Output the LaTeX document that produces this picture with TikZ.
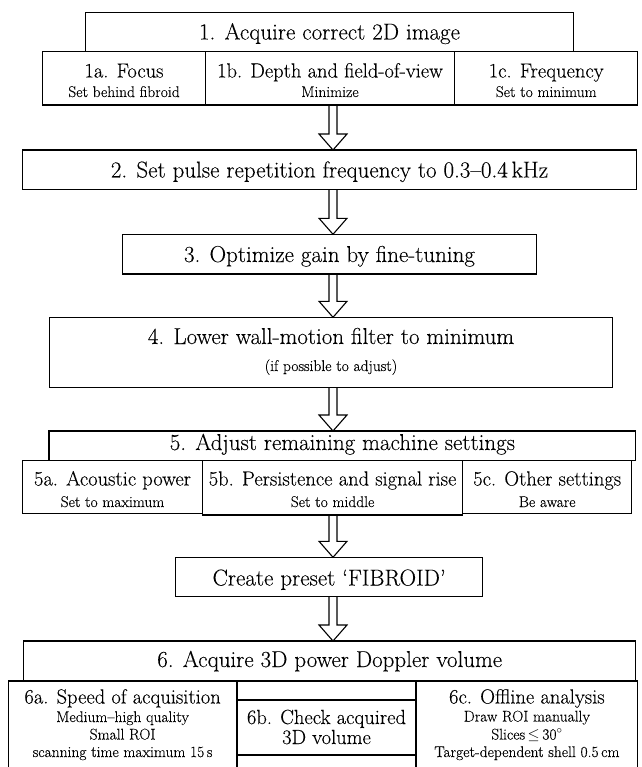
\documentclass[tikz,border=0pt]{standalone}
\usepackage{fix-cm}
\usepackage{fontspec}
\setmainfont{Latin Modern Roman}[FakeBold=0.15]
\usetikzlibrary{fit,calc}
\newcommand\fmain{\fontsize{23}{27}\selectfont}
\newcommand\fsub{\fontsize{20.5}{24}\selectfont}
\newcommand\fsmall{\fontsize{15.5}{18}\selectfont}
\newcommand\flowarrow[2]{%
  \draw[blk] ($(#1.south -| ax)+(-4,0)$) -- ($(#2.north -| ax)+(-4,-16)$)
    -- ($(#2.north -| ax)+(-14,-16)$) -- (#2.north -| ax)
    -- ($(#2.north -| ax)+(14,-16)$) -- ($(#2.north -| ax)+(4,-16)$)
    -- ($(#1.south -| ax)+(4,0)$);}
\newcommand\bx[5]{\node[box, fit={(#2,#3) (#4,#5)}] (#1) {};}
\tikzset{
  box/.style={draw, line width=1.1pt, inner sep=0pt, outer sep=0pt},
  ttl/.style={anchor=base, inner sep=0pt, font=\fmain},
  sub/.style={anchor=base, inner sep=0pt, font=\fsub},
  sml/.style={anchor=base, inner sep=0pt, font=\fsmall},
  blk/.style={draw, line width=1.1pt, line join=miter},
}
\begin{document}
\begin{tikzpicture}[x=1pt, y=-1pt]
\useasboundingbox (0,0) rectangle (641,767);
\clip (0,0) rectangle (641,767);
\coordinate (ax) at (333,0);

% Step 1
\bx{b1}{85.9}{12.3}{573.2}{51.7}
\node[ttl] (b1t) at (329.5,39.5) {1. Acquire correct 2D image};
\bx{s1a}{42.9}{51.7}{205.2}{105}
\bx{s1b}{205.2}{51.7}{454.6}{105}
\bx{s1c}{454.6}{51.7}{637.8}{105}
\node[sub] (s1at) at (124,77.5) {1a. Focus};
\node[sml] (s1as) at (124,97) {Set behind fibroid};
\node[sub] (s1bt) at (330,77.5) {1b. Depth and field-of-view};
\node[sml] (s1bs) at (330,97) {Minimize};
\node[sub] (s1ct) at (546.2,77.5) {1c. Frequency};
\node[sml] (s1cs) at (546.2,97) {Set to minimum};

% Step 2
\bx{b2}{22.5}{150}{636.5}{189.3}
\node[ttl] (b2t) at (329.5,177.5) {2. Set pulse repetition frequency to 0.3–0.4\,kHz};

% Step 3
\bx{b3}{122.6}{234.3}{536.4}{274}
\node[ttl] (b3t) at (329.5,262) {3. Optimize gain by fine-tuning};

% Step 4
\bx{b4}{49.9}{317.3}{612.4}{387.7}
\node[ttl] (b4t) at (331,344) {4. Lower wall-motion filter to minimum};
\node[sml] (b4s) at (331,371) {(if possible to adjust)};

% Step 5
\bx{b5}{49}{431}{635.7}{460.7}
\node[ttl] (b5t) at (342.4,450) {5. Adjust remaining machine settings};
\bx{s5a}{22.5}{460.7}{202.4}{513.3}
\bx{s5b}{202.4}{460.7}{462.8}{515}
\bx{s5c}{462.8}{460.7}{631.6}{513.3}
\node[sub] (s5at) at (112.5,485.5) {5a. Acoustic power};
\node[sml] (s5as) at (112.5,507) {Set to maximum};
\node[sub] (s5bt) at (332.6,485.5) {5b. Persistence and signal rise};
\node[sml] (s5bs) at (332.6,507) {Set to middle};
\node[sub] (s5ct) at (547.2,485.5) {5c. Other settings};
\node[sml] (s5cs) at (547.2,507) {Be aware};

% Preset
\bx{pre}{175.8}{557.3}{482.4}{596.7}
\node[ttl] (pret) at (329.1,585.5) {Create preset ‘FIBROID’};

% Step 6
\bx{b6}{23.7}{641}{635.7}{681}
\node[ttl] (b6t) at (329.7,667) {6. Acquire 3D power Doppler volume};
\bx{s6a}{8.2}{681}{237}{790}
\bx{s6b}{237}{700}{416}{755}
\bx{s6c}{416}{681}{637.8}{790}
\node[sub] (s6at) at (122.6,703.5) {6a. Speed of acquisition};
\node[sml] (s6a1) at (122.6,722) {Medium–high quality};
\node[sml] (s6a2) at (122.6,739.5) {Small ROI};
\node[sml] (s6a3) at (122.6,757) {scanning time maximum 15\,s};
\node[sub] (s6bt) at (326.5,724) {6b. Check acquired};
\node[sub] (s6b2) at (326.5,744) {3D volume};
\node[sub] (s6ct) at (526.9,703.5) {6c. Offline analysis};
\node[sml] (s6c1) at (526.9,721.5) {Draw ROI manually};
\node[sml] (s6c2) at (526.9,739.5) {Slices\,$\leq$\,30$^{\circ}$};
\node[sml] (s6c3) at (526.9,757) {Target-dependent shell 0.5\,cm};

% Arrows
\flowarrow{s1b}{b2}
\flowarrow{b2}{b3}
\flowarrow{b3}{b4}
\flowarrow{b4}{b5}
\flowarrow{s5b}{pre}
\flowarrow{pre}{b6}
\end{tikzpicture}
\end{document}
